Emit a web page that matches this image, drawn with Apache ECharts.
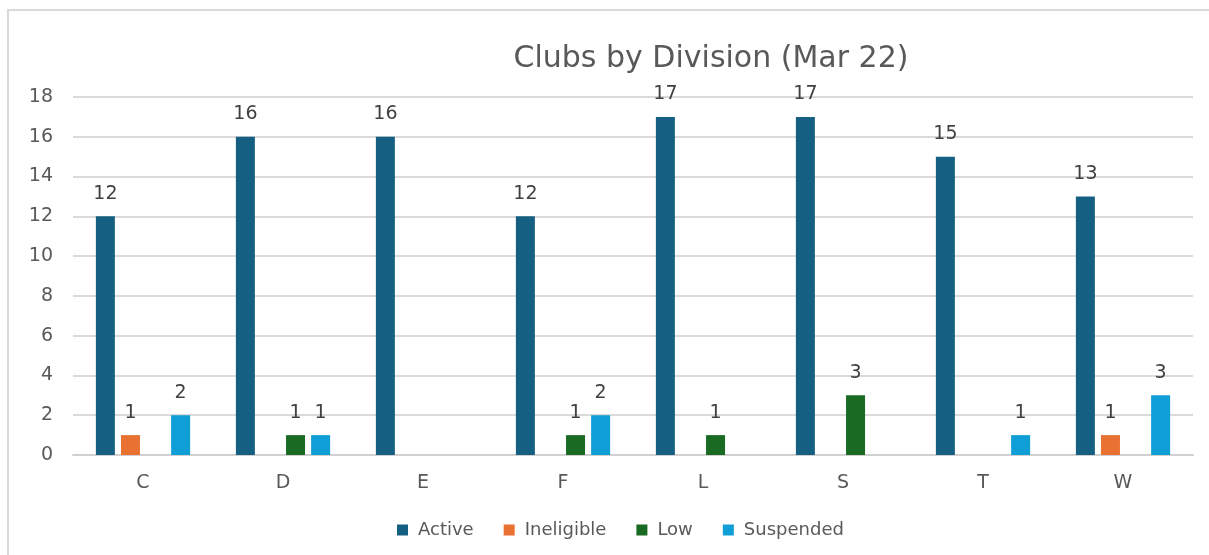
<head>
    <meta charset="utf-8">
    <title>Clubs by Division</title>
    <script src="https://cdn.jsdelivr.net/npm/echarts@6/dist/echarts.min.js"></script>
    <style>
        html, body { margin: 0; padding: 0; background: #fff; }
    </style>
</head>

<body>
    <div id="main" style="width: 1209px; height: 555px;"></div>

    <script type="text/javascript">
        const divisions = ['C', 'D', 'E', 'F', 'L', 'S', 'T', 'W']
        const active = [12, 16, 16, 12, 17, 17, 15, 13]
        const ineligible = [1, 0, 0, 0, 0, 0, 0, 1]
        const low = [0, 1, 0, 1, 1, 3, 0, 0]
        const suspended = [2, 1, 0, 2, 0, 0, 1, 3]

        const font = 'DejaVu Sans'
        var myChart = echarts.init(document.getElementById('main'));

        function bar(name, data, color) {
            return {
                name,
                type: 'bar',
                data,
                barWidth: 19,
                barGap: '32%',
                itemStyle: { color },
                label: {
                    show: true,
                    position: 'top',
                    distance: 13,
                    color: '#404040',
                    fontSize: 19,
                    fontFamily: font,
                    formatter: p => p.value === 0 ? '' : p.value
                }
            }
        }

        option = {
            animation: false,
            title: {
                text: 'Clubs by Division (Mar 22)',
                left: 706,
                top: 39,
                textAlign: 'center',
                textStyle: { color: '#595959', fontSize: 30, fontWeight: 'normal', fontFamily: font }
            },
            legend: {
                bottom: 11,
                left: 392,
                itemWidth: 11,
                itemHeight: 11,
                itemGap: 30,
                icon: 'rect',
                textStyle: { color: '#595959', fontSize: 18, fontFamily: font, padding: [0, 0, 0, 5] }
            },
            grid: {
                left: 73,
                right: 16,
                top: 97,
                bottom: 100
            },
            xAxis: {
                type: 'category',
                data: divisions,
                axisTick: { show: false },
                axisLine: { lineStyle: { color: '#d0d0d0', width: 2 } },
                axisLabel: { color: '#595959', fontSize: 19, fontFamily: font, margin: 19 }
            },
            yAxis: {
                type: 'value',
                min: 0,
                max: 18,
                interval: 2,
                axisLabel: { color: '#595959', fontSize: 19, fontFamily: font, margin: 20 },
                splitLine: { lineStyle: { color: '#dadada', width: 2 } }
            },
            graphic: [{
                type: 'rect',
                shape: { x: 8, y: 10, width: 1220, height: 560 },
                style: { fill: 'none', stroke: '#d9d9d9', lineWidth: 2 },
                silent: true
            }],
            series: [
                bar('Active', active, '#156082'),
                bar('Ineligible', ineligible, '#E97132'),
                bar('Low', low, '#196B24'),
                bar('Suspended', suspended, '#0F9ED5')
            ]
        };

        myChart.setOption(option);
    </script>
</body>
